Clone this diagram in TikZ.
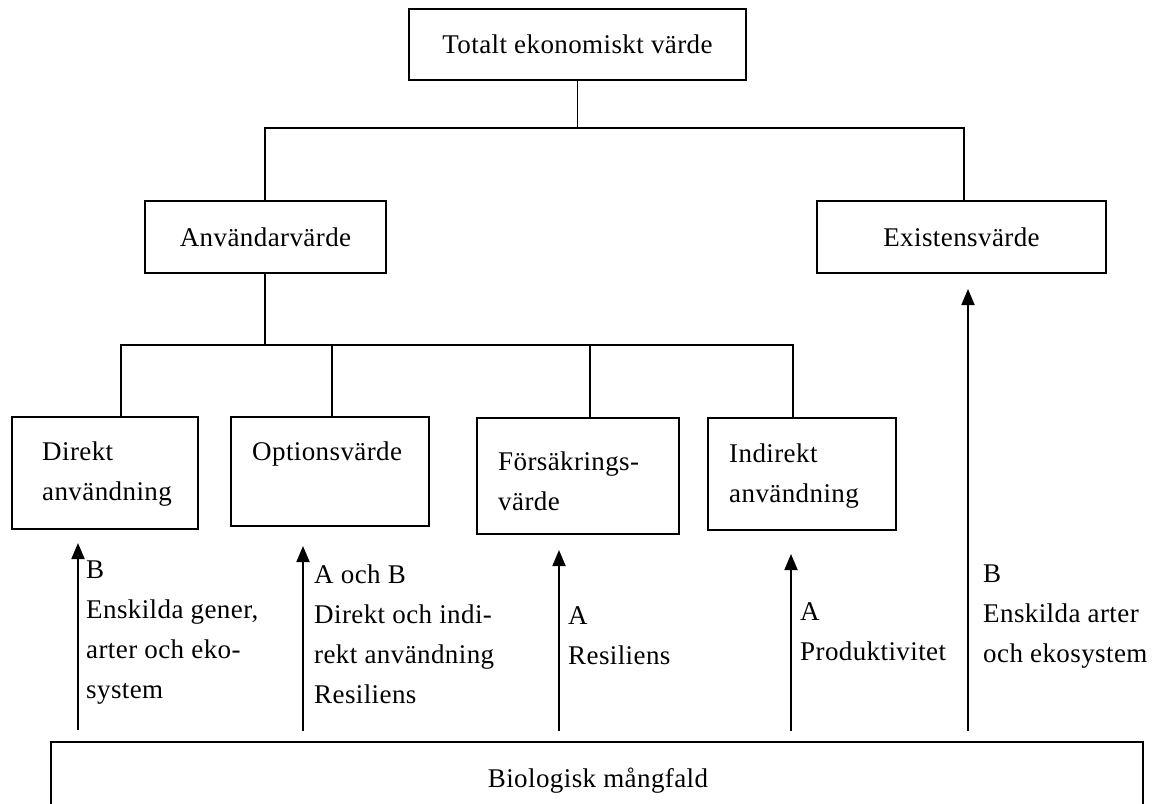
\documentclass[tikz,border=0pt]{standalone}
\usepackage{fontspec}
\setmainfont{Liberation Serif}[LetterSpace=1.5]
\usetikzlibrary{arrows.meta}

% left-aligned stack of lines whose baseline is the first line
\newcommand\linestack[1]{\begin{tabular}[t]{@{}l@{}}#1\end{tabular}}

\begin{document}
\begin{tikzpicture}[x=1pt,y=-1pt,
  every node/.style={font=\fontsize{27}{40}\selectfont},
  box/.style={draw,line width=2pt,inner sep=0pt},
  txt/.style={inner sep=0pt,anchor=base west},
  link/.style={line width=1.7pt},
  arr/.style={line width=1.8pt,-{Triangle[width=13pt,length=16pt]}}]
\useasboundingbox (0,0) rectangle (1156,803);

% value boxes
\node[box,minimum width=337pt,minimum height=71pt] (tev) at (577.5,44.5) {Totalt ekonomiskt värde};
\node[box,minimum width=241pt,minimum height=72pt] (anv) at (265.5,237) {Användarvärde};
\node[box,minimum width=289pt,minimum height=72pt] (exi) at (961.5,237) {Existensvärde};
\node[box,minimum width=186pt,minimum height=112pt] (dir) at (105,473) {};
\node[box,minimum width=198pt,minimum height=109pt] (opt) at (330,471.5) {};
\node[box,minimum width=202pt,minimum height=116pt] (for) at (578,476) {};
\node[box,minimum width=188pt,minimum height=112pt] (ind) at (802,474) {};
\node[box,minimum width=1092pt,minimum height=72pt] (bio) at (597,778) {};

% texts in the lower boxes
\node[txt] (dirT) at (42,460) {\linestack{Direkt\\användning}};
\node[txt] (optT) at (252,460) {Optionsvärde};
\node[txt] (forT) at (498,470) {\linestack{Försäkrings-\\värde}};
\node[txt] (indT) at (729,462) {\linestack{Indirekt\\användning}};
\node[inner sep=0pt,anchor=base] (bioT) at (598,787) {Biologisk mångfald};

% tree of values
\coordinate (h1) at (0,128);
\coordinate (h2) at (0,345);
\coordinate (cA) at (265,0);
\coordinate (cE) at (964,0);
\coordinate (c1) at (121,0);
\coordinate (c2) at (332,0);
\coordinate (c3) at (590,0);
\coordinate (c4) at (793,0);
\draw[link] (tev.south) -- (tev.south |- h1);
\draw[link] (cA |- anv.north) -- (cA |- h1) -- (cE |- h1) -- (cE |- exi.north);
\draw[link] (anv.south -| cA) -- (cA |- h2);
\draw[link] (c1 |- dir.north) -- (c1 |- h2) -- (c4 |- h2) -- (c4 |- ind.north);
\draw[link] (c2 |- h2) -- (c2 |- opt.north);
\draw[link] (c3 |- h2) -- (c3 |- for.north);

% contributions of biodiversity
\coordinate (a1) at (78,0);
\coordinate (a2) at (303,0);
\coordinate (a3) at (559,0);
\coordinate (a4) at (791,0);
\coordinate (a5) at (968,0);
\draw[arr,shorten <=11pt,shorten >=13pt] (bio.north -| a1) -- (dir.south -| a1);
\draw[arr,shorten <=10pt,shorten >=19pt] (bio.north -| a2) -- (opt.south -| a2);
\draw[arr,shorten <=10pt,shorten >=15pt] (bio.north -| a3) -- (for.south -| a3);
\draw[arr,shorten <=10pt,shorten >=23pt] (bio.north -| a4) -- (ind.south -| a4);
\draw[arr,shorten <=10pt,shorten >=15pt] (bio.north -| a5) -- (exi.south -| a5);

% arrow labels
\node[txt] (l1) at (86,578) {\linestack{B\\Enskilda gener,\\arter och eko-\\system}};
\node[txt] (l2) at (314,583) {\linestack{A och B\\Direkt och indi-\\rekt användning\\Resiliens}};
\node[txt] (l3) at (568,624) {\linestack{A\\Resiliens}};
\node[txt] (l4) at (800,620) {\linestack{A\\Produktivitet}};
\node[txt] (l5) at (983,582) {\linestack{B\\Enskilda arter\\och ekosystem}};
\end{tikzpicture}
\end{document}
